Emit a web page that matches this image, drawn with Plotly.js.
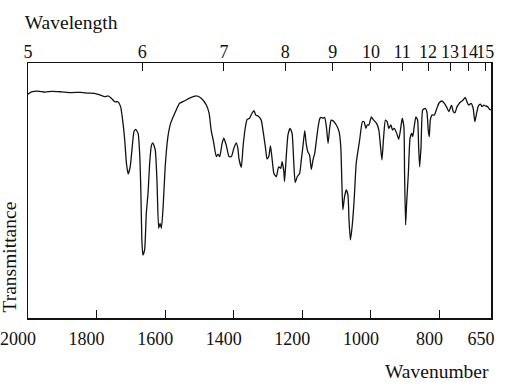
<!DOCTYPE html>
<html>
<head>
<meta charset="utf-8">
<script src="https://cdn.plot.ly/plotly-3.0.1.min.js"></script>
<style>html,body{margin:0;padding:0;background:#fff;}#chart{width:506px;height:388px;}</style>
</head>
<body>
<div id="chart"></div>
<script>
// Wavenumber (cm-1)
var wavenumber = [2000,1990,1971,1950,1930,1903,1874,1845,1825,1806,1791,1776,1767,1757,1747,1738,1730,1723,1718,1713,1708,1702,1696,1691,1686,1679,1674,1671,1668,1665,1660,1655,1650,1645,1640,1636,1629,1624,1619,1615,1611,1606,1600,1592,1584,1572,1558,1543,1529,1509,1495,1480,1472,1466,1459,1451,1446,1441,1434,1429,1422,1414,1407,1400,1393,1388,1385,1378,1373,1366,1361,1354,1347,1341,1336,1329,1320,1315,1308,1303,1298,1293,1289,1283,1276,1269,1263,1259,1254,1252,1247,1242,1236,1230,1225,1221,1215,1208,1203,1198,1193,1189,1184,1179,1174,1169,1164,1159,1154,1149,1145,1140,1135,1130,1125,1120,1116,1111,1101,1093,1088,1085,1082,1077,1072,1067,1064,1060,1055,1049,1043,1033,1025,1020,1015,1011,1006,999,994,984,977,973,968,963,958,953,948,942,937,932,925,919,914,909,904,902,899,896,891,886,881,878,874,869,864,861,858,854,849,842,837,833,830,827,822,815,808,801,793,786,779,773,769,765,760,755,749,744,738,731,725,720,715,708,702,697,692,687,681,676,671,665,660,655,650];
// Transmittance (arbitrary %, no scale printed)
var transmittance = [87.8,88.7,89.0,88.6,88.9,88.7,88.4,88.5,88.2,88.1,87.5,86.8,87.1,86.2,84.8,84.8,82.9,76.4,69.8,60.7,56.5,59.3,67.2,73.1,74.0,72.4,63.3,50.2,30.6,24.7,26.7,41.1,49.0,61.2,67.8,68.7,65.9,54.1,35.2,37.1,35.2,43.6,59.3,71.1,76.4,80.3,84.2,85.2,86.2,87.1,86.2,83.5,80.3,73.7,69.1,63.3,64.3,63.3,68.5,70.5,67.8,63.3,63.3,66.5,68.7,66.5,62.6,59.1,67.2,75.0,77.9,78.3,80.3,81.3,79.6,79.2,77.6,73.7,67.2,62.4,63.3,67.5,63.3,56.7,55.4,59.3,58.7,61.3,57.4,53.5,63.3,71.8,74.4,72.4,60.7,53.1,55.4,56.7,62.0,67.8,73.5,68.5,65.2,63.9,58.3,62.0,64.6,69.8,75.0,78.3,78.7,78.3,78.7,75.0,68.5,75.0,77.6,77.4,75.7,73.1,67.2,54.1,42.4,47.6,50.2,48.2,38.4,30.6,35.8,46.3,60.7,69.8,77.0,77.0,74.4,75.7,75.7,78.9,77.9,76.4,73.7,68.5,62.0,71.1,77.6,77.0,74.4,75.7,73.7,74.4,72.4,70.1,73.7,78.3,75.0,56.7,36.5,45.0,56.7,70.5,72.4,71.1,75.0,78.9,77.6,67.2,59.3,67.2,81.6,82.2,80.9,73.7,71.1,77.6,79.6,79.6,82.2,84.4,85.1,84.2,82.6,80.9,82.2,83.5,80.9,80.5,82.9,83.9,84.8,85.5,86.5,84.8,83.5,84.2,82.2,77.0,80.3,83.1,83.9,82.9,83.5,83.1,82.9,82.0,81.6];
// Axis ticks
var wavenumberTicks = [2000,1800,1600,1400,1200,1000,800,650];
var wavelengthTicks = [5,6,7,8,9,10,11,12,13,14,15];

var wavelengthPos = wavelengthTicks.map(function(l){return 10000/l;});
var serif = "Liberation Serif, Times New Roman, serif";

var traces = [
  {x: wavenumber, y: transmittance, type:'scatter', mode:'lines',
   line:{color:'#111', width:1.3, shape:'spline', smoothing:0.5}, hoverinfo:'skip'},
  {x: [], y: [], xaxis:'x2', type:'scatter', mode:'lines', hoverinfo:'skip'}
];

var layout = {
  width:506, height:388,
  margin:{l:28, r:15, t:63, b:70},
  paper_bgcolor:'#fff', plot_bgcolor:'#fff',
  showlegend:false,
  font:{family:serif, color:'#111', size:18},
  title:{text:'Wavelength', font:{family:serif, size:19.5, color:'#111'},
         xref:'container', x:0.049, xanchor:'left', yref:'container', y:0.943, yanchor:'middle'},
  xaxis:{range:[2000,650], tickvals:wavenumberTicks, ticktext:wavenumberTicks.map(String),
         ticks:'inside', ticklen:8, tickwidth:1, tickcolor:'#111', tickangle:0,
         showline:true, linecolor:'#111', linewidth:1.5, mirror:true,
         showgrid:false, zeroline:false, ticklabelshift:10, ticklabelstandoff:4,
         ticklabeloverflow:'allow',
         tickfont:{family:serif, size:18, color:'#111'}},
  xaxis2:{range:[2000,650], overlaying:'x', side:'top', anchor:'y',
          tickvals:wavelengthPos, ticktext:wavelengthTicks.map(String),
          ticks:'inside', ticklen:8, tickwidth:1, tickcolor:'#111', tickangle:0,
          showline:false, showgrid:false, zeroline:false, ticklabeloverflow:'allow',
          tickfont:{family:serif, size:18, color:'#111'}},
  yaxis:{range:[0,100], showticklabels:false, ticks:'', showgrid:false, zeroline:false,
         showline:true, linecolor:'#111', linewidth:1.5, mirror:true},
  annotations:[
    {text:'Wavenumber', xref:'paper', yref:'paper', x:1, y:0, xanchor:'right', yanchor:'middle',
     yshift:-53, showarrow:false, font:{family:serif, size:19.5, color:'#111'}},
    {text:'Transmittance', xref:'paper', yref:'paper', x:0, y:0.237, xanchor:'center', yanchor:'middle',
     xshift:-18, textangle:-90, showarrow:false, font:{family:serif, size:19.5, color:'#111'}}
  ]
};

Plotly.newPlot('chart', traces, layout, {displayModeBar:false, staticPlot:true});
</script>
</body>
</html>
